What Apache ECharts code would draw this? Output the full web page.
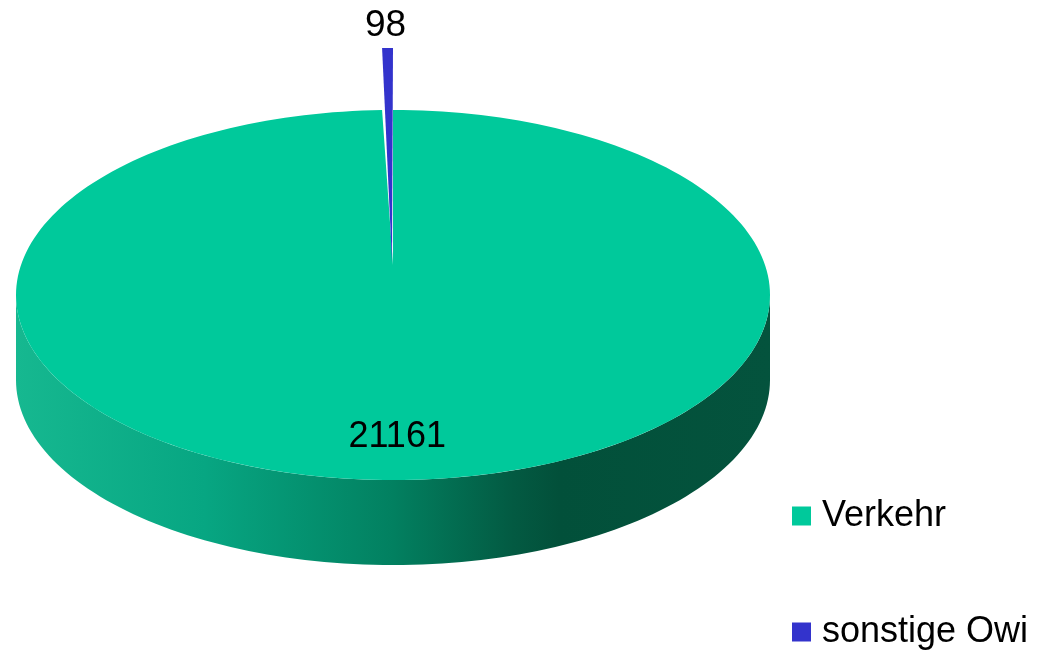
<!DOCTYPE html>
<html>
<head>
<meta charset="utf-8">
<script src="https://cdn.jsdelivr.net/npm/echarts@6/dist/echarts.min.js"></script>
<style>
html, body { margin: 0; padding: 0; background: #fff; }
#chart { width: 1038px; height: 654px; }
</style>
</head>
<body>
<div id="chart"></div>
<script>
var categories = ['Verkehr', 'sonstige Owi'];
var values = [21161, 98];
var colors = ['#00c99b', '#3333cc'];

var total = values.reduce(function (a, b) { return a + b; }, 0);

// geometry of the tilted disc (top face ellipse)
var cx = 393, cy = 295, rx = 377, ry = 185, apexY = 265, depth = 85;
var lift = -62; // exploded slice offset
var font = 'Liberation Sans, Arial, sans-serif';

function pt(deg, dy) {
    var r = deg * Math.PI / 180;
    return [cx + rx * Math.sin(r), cy - ry * Math.cos(r) + (dy || 0)];
}
function arc(a0, a1, dy) {
    var pts = [], n = Math.max(2, Math.ceil(Math.abs(a1 - a0) / 1.5));
    for (var k = 0; k <= n; k++) pts.push(pt(a0 + (a1 - a0) * k / n, dy));
    return pts;
}

var sideFill = new echarts.graphic.LinearGradient(0, 0, 1, 0, [
    { offset: 0, color: '#16b890' },
    { offset: 0.25, color: '#07a682' },
    { offset: 0.5, color: '#028060' },
    { offset: 0.66, color: '#035a42' },
    { offset: 0.72, color: '#02503a' },
    { offset: 1, color: '#04533d' }
]);

function renderSlice(i) {
    return function (params, api) {
        var before = 0;
        for (var k = 0; k < i; k++) before += values[k];
        var a0 = before / total * 360;
        var a1 = (before + values[i]) / total * 360;
        var mid = (a0 + a1) / 2;
        var children = [];
        if (i === 0) {
            // front wall, only the part between 90 and 270 deg is visible
            var s0 = Math.max(a0, 90), s1 = Math.min(a1, 270);
            if (s1 > s0) {
                var top = arc(s0, s1, 0), bot = arc(s1, s0, depth);
                children.push({
                    type: 'polygon',
                    shape: { points: top.concat(bot) },
                    style: { fill: sideFill }
                });
            }
            children.push({
                type: 'polygon',
                shape: { points: [[cx, apexY]].concat(arc(a0, a1, 0)) },
                style: { fill: colors[i] }
            });
            var r = mid * Math.PI / 180;
            children.push({
                type: 'text',
                style: {
                    text: String(values[i]),
                    x: cx + 0.77 * rx * Math.sin(r),
                    y: cy - 0.77 * ry * Math.cos(r),
                    align: 'center', verticalAlign: 'middle',
                    font: '36px ' + font, fill: '#000'
                }
            });
        } else {
            children.push({
                type: 'polygon',
                shape: { points: [[cx - 1, apexY - 3]].concat(arc(a0, a1, lift)) },
                style: { fill: colors[i] }
            });
            var p = pt(mid, lift);
            children.push({
                type: 'text',
                style: {
                    text: String(values[i]),
                    x: p[0] - 2, y: p[1] - 4,
                    align: 'center', verticalAlign: 'bottom',
                    font: '37px ' + font, fill: '#000'
                }
            });
        }
        return { type: 'group', children: children };
    };
}

var chart = echarts.init(document.getElementById('chart'));
chart.setOption({
    animation: false,
    legend: {
        orient: 'vertical',
        left: 787,
        top: 493,
        height: 220,
        icon: 'rect',
        itemWidth: 19,
        itemHeight: 19,
        itemGap: 80,
        textStyle: { fontSize: 36, fontFamily: font, color: '#000', padding: [0, 0, 0, 6] },
        data: categories
    },
    series: categories.map(function (name, i) {
        return {
            type: 'custom',
            name: name,
            coordinateSystem: 'none',
            silent: true,
            itemStyle: { color: colors[i] },
            renderItem: renderSlice(i),
            data: [values[i]]
        };
    })
});
</script>
</body>
</html>
